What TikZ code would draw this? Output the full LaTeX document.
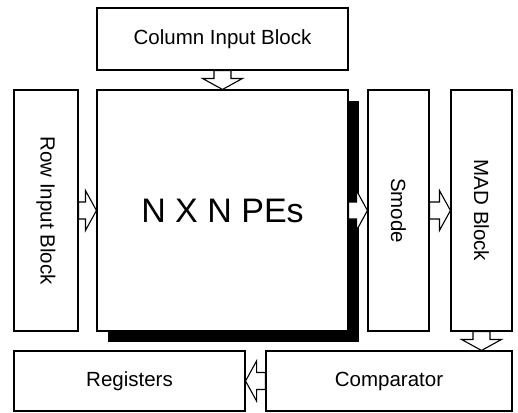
\documentclass[tikz,border=0pt]{standalone}
\usepackage{fontspec}
\setmainfont{Liberation Sans}
\usepackage{graphicx}
\usetikzlibrary{calc, shadows}

\begin{document}
\begin{tikzpicture}[x=1pt, y=-1pt,
  block/.style={draw, line width=1.1pt, inner sep=0pt, font=\fontsize{20.5}{24}\selectfont},
  fatarrow/.style={draw, line width=1.1pt, fill=white, line join=miter, to path={
    -- ($(\tikztostart)!8.5pt!90:(\tikztotarget)$)
    -- ($(\tikztotarget)!11pt!(\tikztostart)!8.5pt!-90:(\tikztostart)$)
    -- ($(\tikztotarget)!11pt!(\tikztostart)!20pt!-90:(\tikztostart)$)
    -- (\tikztotarget)
    -- ($(\tikztotarget)!11pt!(\tikztostart)!20pt!90:(\tikztostart)$)
    -- ($(\tikztotarget)!11pt!(\tikztostart)!8.5pt!90:(\tikztostart)$)
    -- ($(\tikztostart)!8.5pt!-90:(\tikztotarget)$)
    -- cycle}}]
  \useasboundingbox (0,0) rectangle (518,412);

  \node[block, minimum width=251, minimum height=62] (col) at (222.5, 39) {Column Input Block};
  \node[block, minimum width=251, minimum height=241, fill=white,
        drop shadow={shadow xshift=10.5pt, shadow yshift=-10.5pt, fill=black, opacity=1},
        font=\fontsize{34}{40}\selectfont] (pe) at (222.5, 210.5) {N X N PEs};
  \node[block, minimum width=64, minimum height=241] (row) at (46, 210.5) {\rotatebox{-90}{Row Input Block}};
  \node[block, minimum width=61, minimum height=241] (smode) at (398.5, 210.5) {\rotatebox{-90}{Smode}};
  \node[block, minimum width=61, minimum height=241] (mad) at (481.5, 210.5) {\rotatebox{-90}{MAD Block}};
  \node[block, minimum width=231, minimum height=60] (reg) at (129.5, 381) {Registers};
  \node[block, minimum width=246, minimum height=60] (cmp) at (389, 381) {Comparator};

  \draw[fatarrow] (col.south) to (pe.north);
  \draw[fatarrow] (row.east) to (pe.west);
  \draw[fatarrow] (pe.east) to (smode.west);
  \draw[fatarrow] (smode.east) to (mad.west);
  \draw[fatarrow] (mad.south) to (mad.south |- cmp.north);
  \draw[fatarrow] (cmp.west) to (reg.east);
\end{tikzpicture}
\end{document}
